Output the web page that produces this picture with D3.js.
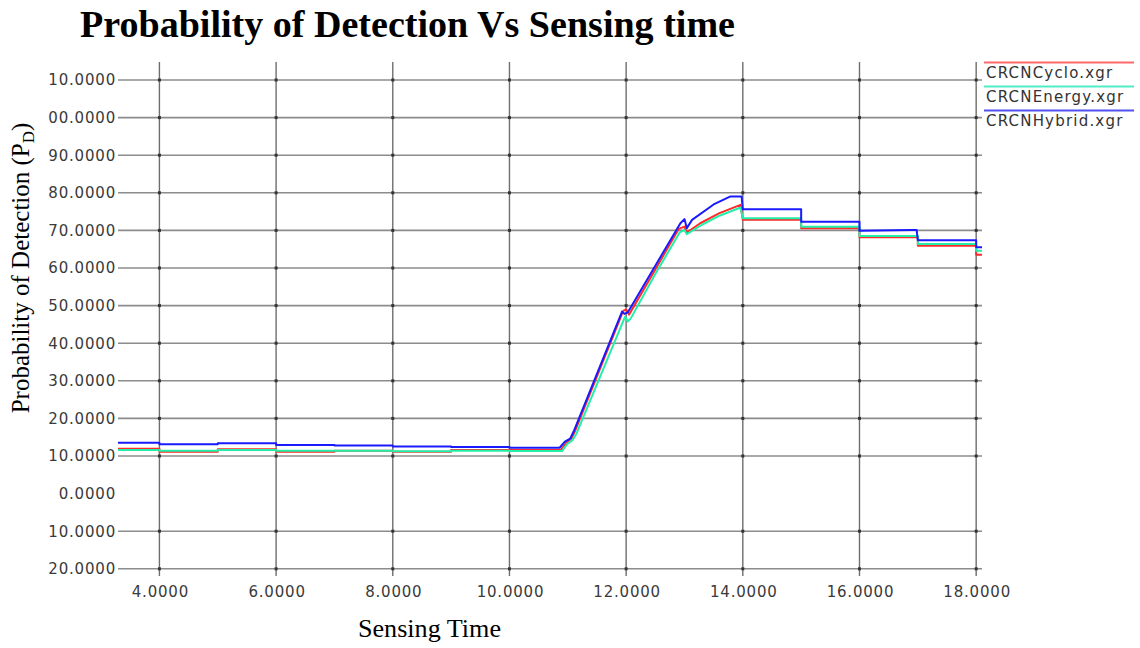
<!DOCTYPE html>
<html>
<head>
<meta charset="utf-8">
<script src="https://cdn.jsdelivr.net/npm/d3@7"></script>
<style>
  html, body { margin: 0; padding: 0; background: #ffffff; }
  svg { display: block; }
</style>
</head>
<body>
<svg id="chart" width="1140" height="648"></svg>
<script>
// ---------------- DATA ----------------
const chartTitle = "Probability of Detection Vs Sensing time";
const xAxisTitle = "Sensing Time";
const yAxisTitleMain = "Probability of Detection (P";
const yAxisTitleSub = "D";
const yAxisTitleEnd = ")";

const xTickValues = [4, 6, 8, 10, 12, 14, 16, 18];
const xTickLabels = ["4.0000", "6.0000", "8.0000", "10.0000", "12.0000", "14.0000", "16.0000", "18.0000"];

const yTickValues = [110, 100, 90, 80, 70, 60, 50, 40, 30, 20, 10, 0, -10, -20];
const yTickLabels = ["10.0000", "00.0000", "90.0000", "80.0000", "70.0000", "60.0000", "50.0000",
                     "40.0000", "30.0000", "20.0000", "10.0000", "0.0000", "10.0000", "20.0000"];
const yGridValues = [110, 100, 90, 80, 70, 60, 50, 40, 30, 20, 10, -10, -20];

const seriesNames = ["CRCNCyclo.xgr", "CRCNEnergy.xgr", "CRCNHybrid.xgr"];

const cycloData = [
  [3.29, 11.9], [4.0, 11.9], [4.0, 11.1], [5.0, 11.1], [5.0, 11.8], [6.0, 11.8], [6.0, 11.1],
  [7.0, 11.1], [7.0, 11.4], [8.0, 11.4], [8.0, 11.1], [9.0, 11.1], [9.0, 11.6], [10.0, 11.6],
  [10.88, 11.6], [10.97, 13.5], [11.06, 14.6], [11.12, 16.5], [11.95, 48.6], [12.0, 49.0],
  [12.05, 47.6], [12.5, 59.6], [12.9, 70.4], [13.0, 71.0], [13.04, 69.4], [13.27, 71.9],
  [13.6, 74.6], [13.96, 76.8], [14.0, 72.8], [15.0, 72.8], [15.0, 70.6], [16.0, 70.6],
  [16.0, 68.2], [17.0, 68.2], [17.0, 65.9], [18.0, 65.9], [18.0, 63.5], [18.1, 63.5]
];

const energyData = [
  [3.29, 11.6], [4.0, 11.6], [4.0, 11.4], [5.0, 11.4], [5.0, 11.6], [6.0, 11.6], [6.0, 11.4],
  [8.0, 11.4], [8.0, 11.25], [9.0, 11.25], [9.0, 11.4], [10.0, 11.4], [10.0, 11.3],
  [10.9, 11.3], [10.99, 13.2], [11.08, 14.2], [11.15, 16.0], [11.98, 47.0], [12.03, 45.8],
  [12.08, 46.6], [12.5, 58.4], [12.92, 69.5], [13.0, 70.1], [13.04, 69.0], [13.3, 71.5],
  [13.6, 73.9], [13.96, 76.1], [14.0, 73.2], [15.0, 73.2], [15.0, 71.0], [16.0, 71.0],
  [16.0, 68.5], [17.0, 68.5], [17.0, 66.4], [18.0, 66.4], [18.0, 64.6], [18.1, 64.6]
];

const hybridData = [
  [3.29, 13.5], [4.0, 13.5], [4.0, 13.1], [5.0, 13.1], [5.0, 13.4], [6.0, 13.4], [6.0, 12.9],
  [7.0, 12.9], [7.0, 12.8], [8.0, 12.8], [8.0, 12.5], [9.0, 12.5], [9.0, 12.4], [10.0, 12.4],
  [10.0, 12.2], [10.86, 12.2], [10.95, 13.8], [11.04, 14.6], [11.1, 16.5], [11.93, 48.4],
  [11.97, 47.8], [12.03, 48.2], [12.5, 60.6], [12.93, 71.9], [13.0, 73.0], [13.04, 70.6],
  [13.13, 72.8], [13.5, 76.9], [13.78, 79.0], [13.98, 79.0], [14.0, 75.6], [15.0, 75.6],
  [15.0, 72.3], [16.0, 72.3], [16.0, 69.9], [16.9, 70.1], [16.98, 70.1], [17.0, 67.4],
  [18.0, 67.4], [18.0, 65.5], [18.1, 65.5]
];

const seriesData = [cycloData, energyData, hybridData];
const lineColors = ["#ff2a2a", "#22f0a8", "#1a1aff"];
const legendColors = ["#ff6a6a", "#50ecc8", "#5050f0"];

// ---------------- LAYOUT ----------------
const svg = d3.select("#chart");
const plotLeft = 118, plotRight = 982, gridTop = 62, tickBottom = 576;

const x = d3.scaleLinear().domain([3.29, 18.1]).range([plotLeft, plotRight]);
const y = d3.scaleLinear().domain([-20, 110]).range([568.8, 80]);

// Title
svg.append("text")
  .attr("x", 80).attr("y", 37)
  .attr("textLength", 655).attr("lengthAdjust", "spacingAndGlyphs")
  .style("font-family", "'Liberation Serif', 'Times New Roman', serif")
  .style("font-weight", "bold").style("font-size", "37px").style("fill", "#000")
  .text(chartTitle);

// Horizontal gridlines
svg.append("g").selectAll("line").data(yGridValues).join("line")
  .attr("x1", plotLeft).attr("x2", plotRight)
  .attr("y1", d => y(d)).attr("y2", d => y(d))
  .attr("stroke", "#8c8c8c").attr("stroke-width", 1.6);

// Vertical gridlines
svg.append("g").selectAll("line").data(xTickValues).join("line")
  .attr("x1", d => x(d)).attr("x2", d => x(d))
  .attr("y1", gridTop).attr("y2", tickBottom)
  .attr("stroke", "#6e6e6e").attr("stroke-width", 1.4);

// Intersection dots
const inter = [];
xTickValues.forEach(xv => yGridValues.forEach(yv => inter.push([xv, yv])));
svg.append("g").selectAll("rect").data(inter).join("rect")
  .attr("x", d => x(d[0]) - 1.5).attr("y", d => y(d[1]) - 1.5)
  .attr("width", 3).attr("height", 3).attr("fill", "#333");

// Y tick labels
svg.append("g").selectAll("text").data(yTickValues).join("text")
  .attr("x", 116).attr("y", d => y(d)).attr("dy", "0.36em")
  .attr("text-anchor", "end")
  .style("font-family", "'DejaVu Sans', Verdana, sans-serif")
  .style("font-size", "15px").style("letter-spacing", "0.8px").style("fill", "#3a3a3a")
  .text((d, i) => yTickLabels[i]);

// X tick labels
svg.append("g").selectAll("text").data(xTickValues).join("text")
  .attr("x", d => x(d) + 1).attr("y", 597)
  .attr("text-anchor", "middle")
  .style("font-family", "'DejaVu Sans', Verdana, sans-serif")
  .style("font-size", "15px").style("letter-spacing", "0.8px").style("fill", "#3a3a3a")
  .text((d, i) => xTickLabels[i]);

// Axis titles
svg.append("text")
  .attr("x", 358).attr("y", 637)
  .attr("textLength", 143).attr("lengthAdjust", "spacingAndGlyphs")
  .style("font-family", "'Liberation Serif', 'Times New Roman', serif")
  .style("font-size", "26px").style("fill", "#000")
  .text(xAxisTitle);

const yt = svg.append("text")
  .attr("transform", "translate(29,268) rotate(-90)")
  .attr("text-anchor", "middle")
  .style("font-family", "'Liberation Serif', 'Times New Roman', serif")
  .style("font-size", "25px").style("fill", "#000");
yt.append("tspan").text(yAxisTitleMain);
yt.append("tspan").attr("dy", 5).style("font-size", "17px").text(yAxisTitleSub);
yt.append("tspan").attr("dy", -5).text(yAxisTitleEnd);

// Series lines
const line = d3.line().x(d => x(d[0])).y(d => y(d[1]));
svg.append("g").selectAll("path").data(seriesData).join("path")
  .attr("d", d => line(d))
  .attr("fill", "none")
  .attr("stroke", (d, i) => lineColors[i])
  .attr("stroke-width", 2)
  .attr("stroke-linejoin", "round");

// Legend
const lg = svg.append("g");
seriesNames.forEach((name, i) => {
  const ly = 62.5 + i * 24;
  lg.append("line").attr("x1", 984).attr("x2", 1134).attr("y1", ly).attr("y2", ly)
    .attr("stroke", legendColors[i]).attr("stroke-width", 2);
  lg.append("text").attr("x", 986).attr("y", ly + 15)
    .style("font-family", "'DejaVu Sans', Verdana, sans-serif")
    .style("font-size", "15px").style("letter-spacing", "1.2px").style("fill", "#333")
    .text(name);
});
</script>
</body>
</html>
